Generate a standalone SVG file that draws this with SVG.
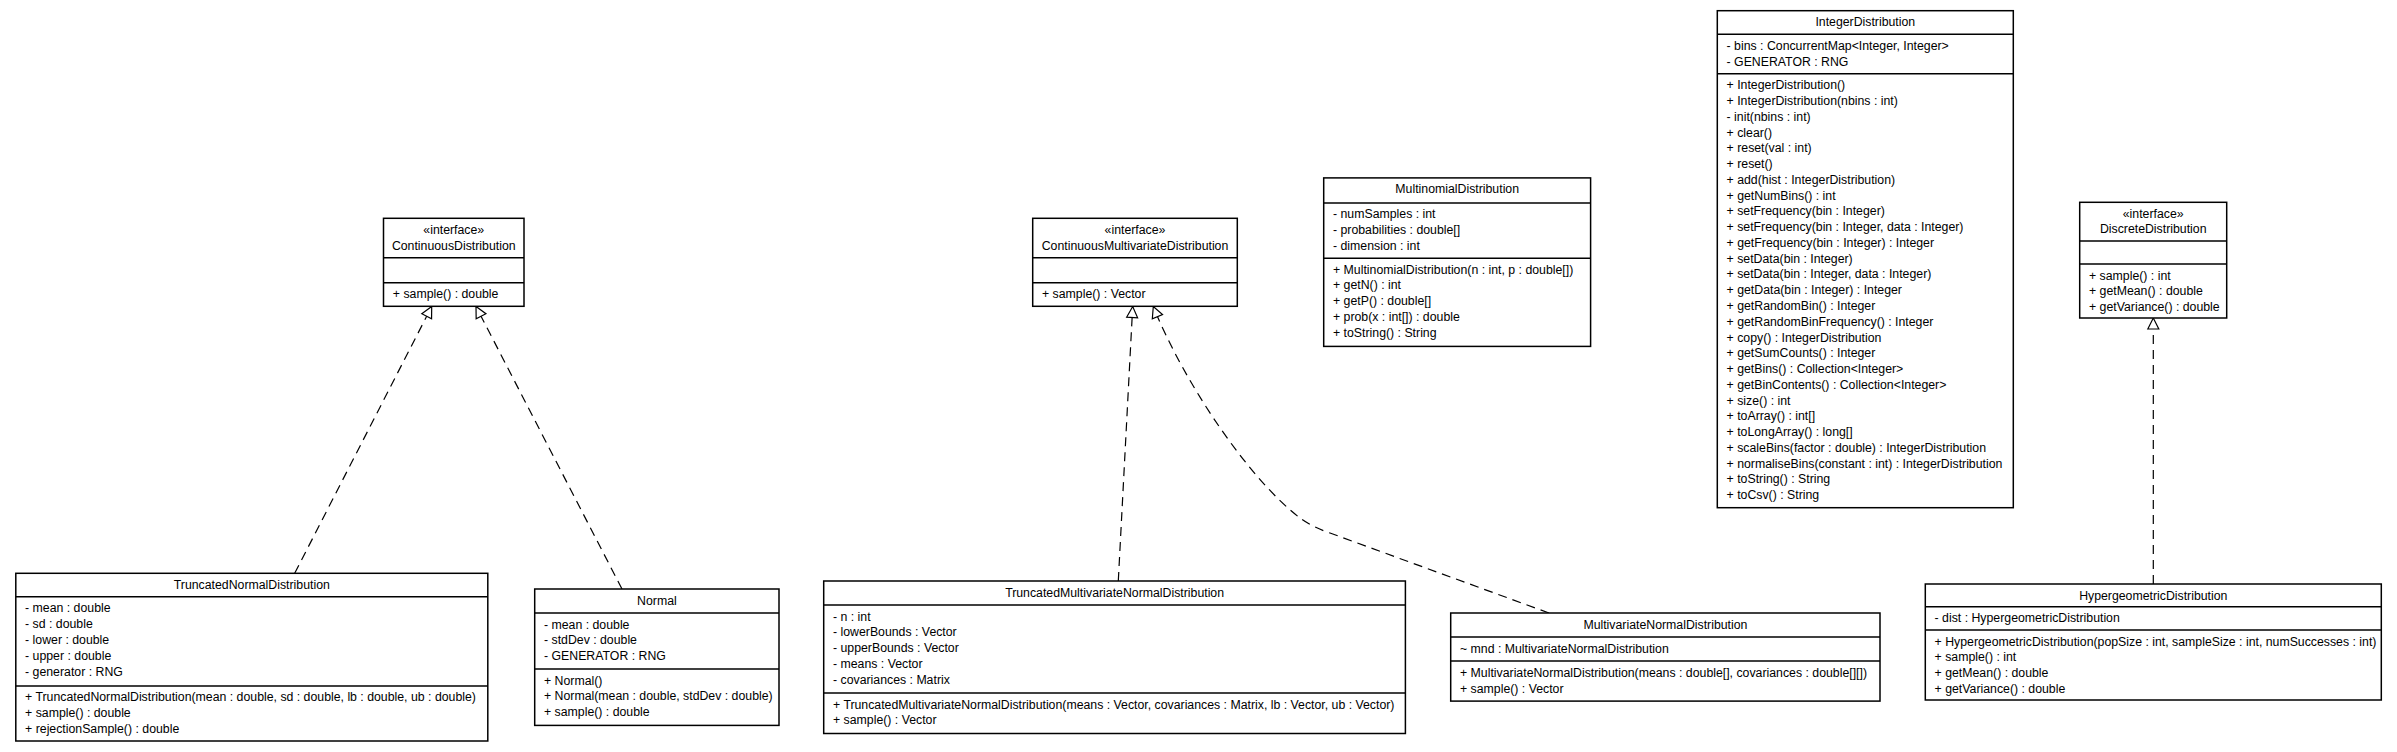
<svg xmlns="http://www.w3.org/2000/svg" width="2397" height="752" viewBox="0 0 2397 752">
<style>
.box{fill:#fff;stroke:#000;stroke-width:1.5}
.sep{stroke:#000;stroke-width:1.5}
text{font-family:"Liberation Sans",Arial,sans-serif;font-size:12.3px;fill:#000}
.c{text-anchor:middle}
.dep{fill:none;stroke:#000;stroke-width:1.2;stroke-dasharray:9 6}
</style>
<defs>
<marker id="real" markerUnits="userSpaceOnUse" markerWidth="14" markerHeight="14" refX="11" refY="5.5" orient="auto" overflow="visible">
<polygon points="0,0 11,5.5 0,11" fill="#fff" stroke="#000" stroke-width="1.2" stroke-dasharray="none"/>
</marker>
</defs>
<rect width="2397" height="752" fill="#fff"/>

<g id="connectors">
<path class="dep" d="M294.7,573.3 L431.7,306.5" marker-end="url(#real)"/>
<path class="dep" d="M622,589 L476,306.5" marker-end="url(#real)"/>
<path class="dep" d="M1118.3,581 L1132.7,306.5" marker-end="url(#real)"/>
<path class="dep" d="M1549,613 L1330,533 Q1312,527 1300,518 C1250,480 1185,385 1153.3,306.5" marker-end="url(#real)"/>
<path class="dep" d="M2153.3,584 L2153.3,318" marker-end="url(#real)"/>
</g>

<g id="ContinuousDistribution">
<rect class="box" x="383.5" y="218.3" width="140.5" height="88"/>
<line class="sep" x1="383.5" y1="257.7" x2="524" y2="257.7"/>
<line class="sep" x1="383.5" y1="282.7" x2="524" y2="282.7"/>
<text class="c" x="453.75" y="233.5">«interface»</text>
<text class="c" x="453.75" y="249.5">ContinuousDistribution</text>
<text x="392.8" y="298">+ sample() : double</text>
</g>

<g id="ContinuousMultivariateDistribution">
<rect class="box" x="1032.7" y="218.3" width="204.6" height="88"/>
<line class="sep" x1="1032.7" y1="257.7" x2="1237.3" y2="257.7"/>
<line class="sep" x1="1032.7" y1="282.7" x2="1237.3" y2="282.7"/>
<text class="c" x="1135" y="233.5">«interface»</text>
<text class="c" x="1135" y="249.5">ContinuousMultivariateDistribution</text>
<text x="1042" y="298">+ sample() : Vector</text>
</g>

<g id="MultinomialDistribution">
<rect class="box" x="1323.7" y="177.9" width="266.9" height="168.5"/>
<line class="sep" x1="1323.7" y1="202.9" x2="1590.6" y2="202.9"/>
<line class="sep" x1="1323.7" y1="258.2" x2="1590.6" y2="258.2"/>
<text class="c" x="1457.2" y="193.4">MultinomialDistribution</text>
<text x="1333" y="218.4">- numSamples : int<tspan x="1333" dy="15.77">- probabilities : double[]</tspan><tspan x="1333" dy="15.77">- dimension : int</tspan></text>
<text x="1333" y="273.7">+ MultinomialDistribution(n : int, p : double[])<tspan x="1333" dy="15.77">+ getN() : int</tspan><tspan x="1333" dy="15.77">+ getP() : double[]</tspan><tspan x="1333" dy="15.77">+ prob(x : int[]) : double</tspan><tspan x="1333" dy="15.77">+ toString() : String</tspan></text>
</g>

<g id="IntegerDistribution">
<rect class="box" x="1717.3" y="10.7" width="296" height="497"/>
<line class="sep" x1="1717.3" y1="34.3" x2="2013.3" y2="34.3"/>
<line class="sep" x1="1717.3" y1="73.7" x2="2013.3" y2="73.7"/>
<text class="c" x="1865.3" y="26">IntegerDistribution</text>
<text x="1726.6" y="49.8">- bins : ConcurrentMap&lt;Integer, Integer&gt;<tspan x="1726.6" dy="15.77">- GENERATOR : RNG</tspan></text>
<text x="1726.6" y="89.2">+ IntegerDistribution()<tspan x="1726.6" dy="15.77">+ IntegerDistribution(nbins : int)</tspan><tspan x="1726.6" dy="15.77">- init(nbins : int)</tspan><tspan x="1726.6" dy="15.77">+ clear()</tspan><tspan x="1726.6" dy="15.77">+ reset(val : int)</tspan><tspan x="1726.6" dy="15.77">+ reset()</tspan><tspan x="1726.6" dy="15.77">+ add(hist : IntegerDistribution)</tspan><tspan x="1726.6" dy="15.77">+ getNumBins() : int</tspan><tspan x="1726.6" dy="15.77">+ setFrequency(bin : Integer)</tspan><tspan x="1726.6" dy="15.77">+ setFrequency(bin : Integer, data : Integer)</tspan><tspan x="1726.6" dy="15.77">+ getFrequency(bin : Integer) : Integer</tspan><tspan x="1726.6" dy="15.77">+ setData(bin : Integer)</tspan><tspan x="1726.6" dy="15.77">+ setData(bin : Integer, data : Integer)</tspan><tspan x="1726.6" dy="15.77">+ getData(bin : Integer) : Integer</tspan><tspan x="1726.6" dy="15.77">+ getRandomBin() : Integer</tspan><tspan x="1726.6" dy="15.77">+ getRandomBinFrequency() : Integer</tspan><tspan x="1726.6" dy="15.77">+ copy() : IntegerDistribution</tspan><tspan x="1726.6" dy="15.77">+ getSumCounts() : Integer</tspan><tspan x="1726.6" dy="15.77">+ getBins() : Collection&lt;Integer&gt;</tspan><tspan x="1726.6" dy="15.77">+ getBinContents() : Collection&lt;Integer&gt;</tspan><tspan x="1726.6" dy="15.77">+ size() : int</tspan><tspan x="1726.6" dy="15.77">+ toArray() : int[]</tspan><tspan x="1726.6" dy="15.77">+ toLongArray() : long[]</tspan><tspan x="1726.6" dy="15.77">+ scaleBins(factor : double) : IntegerDistribution</tspan><tspan x="1726.6" dy="15.77">+ normaliseBins(constant : int) : IntegerDistribution</tspan><tspan x="1726.6" dy="15.77">+ toString() : String</tspan><tspan x="1726.6" dy="15.77">+ toCsv() : String</tspan></text>
</g>

<g id="DiscreteDistribution">
<rect class="box" x="2079.7" y="202.3" width="147" height="115.7"/>
<line class="sep" x1="2079.7" y1="241" x2="2226.7" y2="241"/>
<line class="sep" x1="2079.7" y1="264" x2="2226.7" y2="264"/>
<text class="c" x="2153.2" y="217.5">«interface»</text>
<text class="c" x="2153.2" y="233.3">DiscreteDistribution</text>
<text x="2089" y="279.5">+ sample() : int<tspan x="2089" dy="15.77">+ getMean() : double</tspan><tspan x="2089" dy="15.77">+ getVariance() : double</tspan></text>
</g>

<g id="TruncatedNormalDistribution">
<rect class="box" x="15.8" y="573.3" width="472" height="167.7"/>
<line class="sep" x1="15.8" y1="596.7" x2="487.8" y2="596.7"/>
<line class="sep" x1="15.8" y1="686" x2="487.8" y2="686"/>
<text class="c" x="251.8" y="589">TruncatedNormalDistribution</text>
<text x="25.1" y="612.4">- mean : double<tspan x="25.1" dy="15.9">- sd : double</tspan><tspan x="25.1" dy="15.9">- lower : double</tspan><tspan x="25.1" dy="15.9">- upper : double</tspan><tspan x="25.1" dy="15.9">- generator : RNG</tspan></text>
<text x="25.1" y="701.3">+ TruncatedNormalDistribution(mean : double, sd : double, lb : double, ub : double)<tspan x="25.1" dy="15.9">+ sample() : double</tspan><tspan x="25.1" dy="15.9">+ rejectionSample() : double</tspan></text>
</g>

<g id="Normal">
<rect class="box" x="534.7" y="589" width="244.3" height="136.4"/>
<line class="sep" x1="534.7" y1="613" x2="779" y2="613"/>
<line class="sep" x1="534.7" y1="669" x2="779" y2="669"/>
<text class="c" x="656.9" y="604.5">Normal</text>
<text x="544" y="628.5">- mean : double<tspan x="544" dy="15.9">- stdDev : double</tspan><tspan x="544" dy="15.9">- GENERATOR : RNG</tspan></text>
<text x="544" y="684.5">+ Normal()<tspan x="544" dy="15.9">+ Normal(mean : double, stdDev : double)</tspan><tspan x="544" dy="15.9">+ sample() : double</tspan></text>
</g>

<g id="TruncatedMultivariateNormalDistribution">
<rect class="box" x="823.7" y="581" width="581.7" height="152.5"/>
<line class="sep" x1="823.7" y1="605" x2="1405.4" y2="605"/>
<line class="sep" x1="823.7" y1="693" x2="1405.4" y2="693"/>
<text class="c" x="1114.6" y="596.5">TruncatedMultivariateNormalDistribution</text>
<text x="833" y="620.5">- n : int<tspan x="833" dy="15.9">- lowerBounds : Vector</tspan><tspan x="833" dy="15.9">- upperBounds : Vector</tspan><tspan x="833" dy="15.9">- means : Vector</tspan><tspan x="833" dy="15.9">- covariances : Matrix</tspan></text>
<text x="833" y="708.5">+ TruncatedMultivariateNormalDistribution(means : Vector, covariances : Matrix, lb : Vector, ub : Vector)<tspan x="833" dy="15.9">+ sample() : Vector</tspan></text>
</g>

<g id="MultivariateNormalDistribution">
<rect class="box" x="1450.7" y="613" width="429.3" height="88.1"/>
<line class="sep" x1="1450.7" y1="637.1" x2="1880" y2="637.1"/>
<line class="sep" x1="1450.7" y1="661.1" x2="1880" y2="661.1"/>
<text class="c" x="1665.4" y="628.5">MultivariateNormalDistribution</text>
<text x="1460" y="652.6">~ mnd : MultivariateNormalDistribution</text>
<text x="1460" y="676.6">+ MultivariateNormalDistribution(means : double[], covariances : double[][])<tspan x="1460" dy="15.9">+ sample() : Vector</tspan></text>
</g>

<g id="HypergeometricDistribution">
<rect class="box" x="1925.3" y="584" width="456" height="116"/>
<line class="sep" x1="1925.3" y1="606.7" x2="2381.3" y2="606.7"/>
<line class="sep" x1="1925.3" y1="630" x2="2381.3" y2="630"/>
<text class="c" x="2153.3" y="599.5">HypergeometricDistribution</text>
<text x="1934.6" y="622.2">- dist : HypergeometricDistribution</text>
<text x="1934.6" y="645.5">+ HypergeometricDistribution(popSize : int, sampleSize : int, numSuccesses : int)<tspan x="1934.6" dy="15.77">+ sample() : int</tspan><tspan x="1934.6" dy="15.77">+ getMean() : double</tspan><tspan x="1934.6" dy="15.77">+ getVariance() : double</tspan></text>
</g>
</svg>
